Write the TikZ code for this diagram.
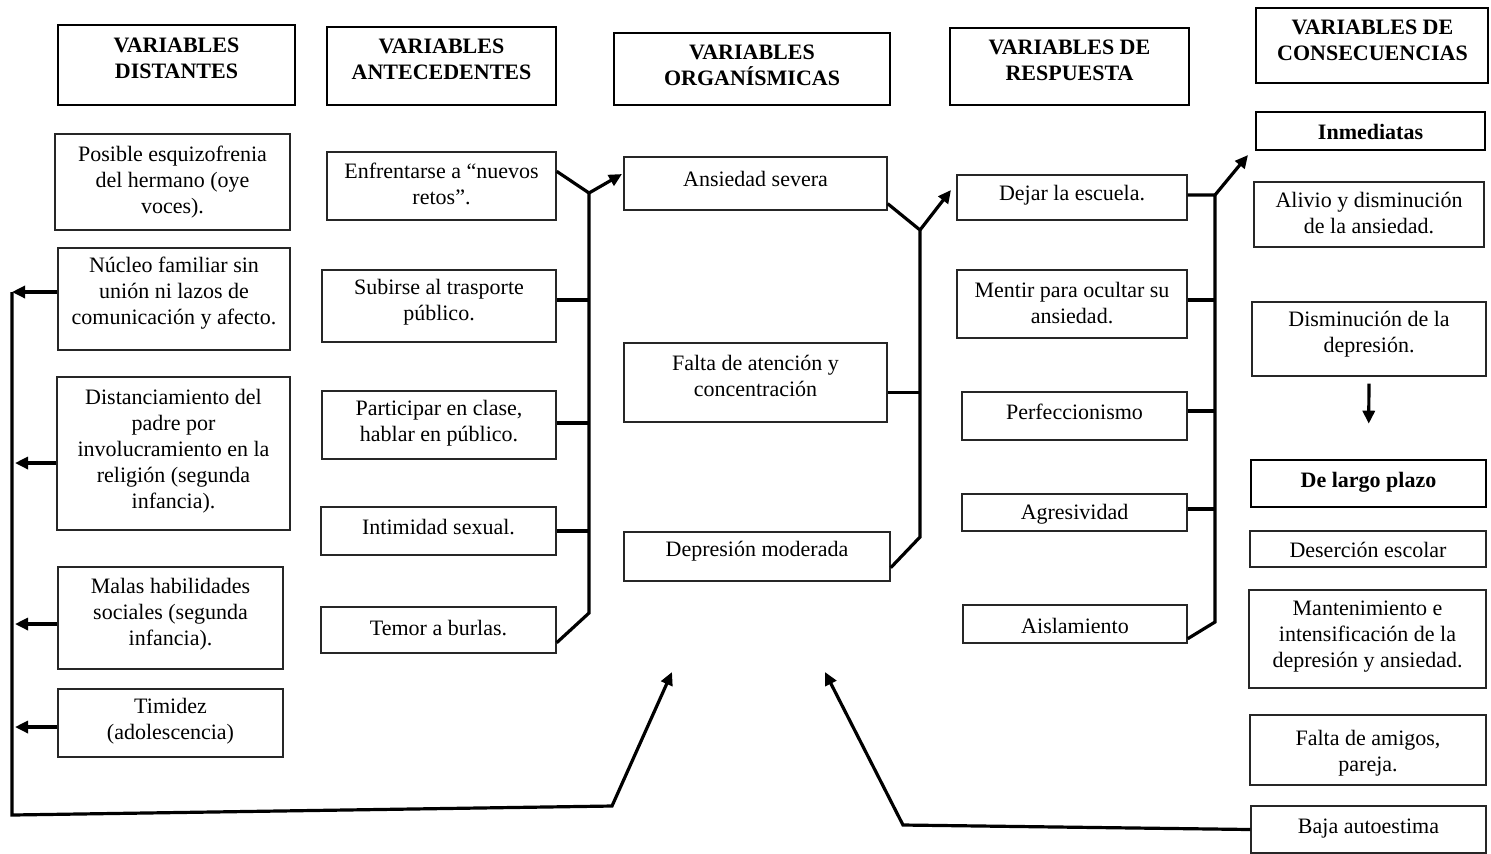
\documentclass[tikz,border=0pt]{standalone}
\usepackage{fontspec}
\setmainfont{Liberation Serif}
\usetikzlibrary{fit,arrows.meta,calc}
\newcommand{\mkbox}[6]{\node[#1, fit={(#3,#4) (#5,#6)}] (#2) {};}
\begin{document}
\begin{tikzpicture}[x=0.5pt,y=-0.5pt]
\tikzset{
 box/.style={draw=black!85, line width=0.7pt, inner sep=0pt},
 hbox/.style={draw=black, line width=1.3pt, inner sep=0pt},
 txt/.style={align=center, font=\fontsize{11}{13}\selectfont, inner sep=0pt},
 htxt/.style={align=center, font=\fontsize{11}{13}\selectfont\bfseries, inner sep=0pt},
 conn/.style={line width=1.6pt, line join=miter},
 arr/.style={conn, -{Triangle[length=6.5pt,width=6pt]}},
}
\useasboundingbox (0,0) rectangle (1491,853);
% headers
\mkbox{hbox}{H1}{58}{25}{295}{105}
\mkbox{hbox}{H2}{327}{27}{556}{105}
\mkbox{hbox}{H3}{614}{33}{890}{105}
\mkbox{hbox}{H4}{950}{28}{1189}{105}
\mkbox{hbox}{H5}{1256}{8}{1488}{83}
\node[htxt] (H1t) at (176.5,58) {VARIABLES\\DISTANTES};
\node[htxt] (H2t) at (441.5,59) {VARIABLES\\ANTECEDENTES};
\node[htxt] (H3t) at (752,65) {VARIABLES\\ORGANÍSMICAS};
\node[htxt] (H4t) at (1069.5,60) {VARIABLES DE\\RESPUESTA};
\node[htxt] (H5t) at (1372.5,40) {VARIABLES DE\\CONSECUENCIAS};
% distantes
\mkbox{box}{D1}{55}{134}{290}{230}
\mkbox{box}{D2}{58}{248}{290}{350}
\mkbox{box}{D3}{57}{377}{290}{530}
\mkbox{box}{D4}{58}{567}{283}{669}
\mkbox{box}{D5}{58}{689}{283}{757}
\node[txt] (D1t) at (172.5,182) {Posible esquizofrenia\\del hermano (oye\\voces).};
\node[txt] (D2t) at (174,293) {Núcleo familiar sin\\unión ni lazos de\\comunicación y afecto.};
\node[txt] (D3t) at (173.5,451) {Distanciamiento del\\padre por\\involucramiento en la\\religión (segunda\\infancia).};
\node[txt] (D4t) at (170.5,614) {Malas habilidades\\sociales (segunda\\infancia).};
\node[txt] (D5t) at (170.5,721) {Timidez\\(adolescencia)};
% antecedentes
\mkbox{box}{A1}{327}{152}{556}{220}
\mkbox{box}{A2}{322}{270}{556}{342}
\mkbox{box}{A3}{322}{391}{556}{459}
\mkbox{box}{A4}{321}{507}{556}{555}
\mkbox{box}{A5}{321}{607}{556}{653}
\node[txt] (A1t) at (441.5,184) {Enfrentarse a “nuevos\\retos”.};
\node[txt] (A2t) at (439,302) {Subirse al trasporte\\público.};
\node[txt] (A3t) at (439,423) {Participar en clase,\\hablar en público.};
\node[txt] (A4t) at (438.5,527) {Intimidad sexual.};
\node[txt] (A5t) at (438.5,628) {Temor a burlas.};
% organismicas
\mkbox{box}{O1}{624}{157}{887}{210}
\mkbox{box}{O2}{624}{343}{887}{422}
\mkbox{box}{O3}{624}{532}{890}{581}
\node[txt] (O1t) at (755.5,179) {Ansiedad severa};
\node[txt] (O2t) at (755.5,376) {Falta de atención y\\concentración};
\node[txt] (O3t) at (757,551) {Depresión moderada};
% respuesta
\mkbox{box}{R1}{957}{175}{1187}{220}
\mkbox{box}{R2}{957}{270}{1187}{338}
\mkbox{box}{R3}{962}{392}{1187}{440}
\mkbox{box}{R4}{962}{494}{1187}{531}
\mkbox{box}{R5}{963}{605}{1187}{643}
\node[txt] (R1t) at (1072,195) {Dejar la escuela.};
\node[txt] (R2t) at (1072,303) {Mentir para ocultar su\\ansiedad.};
\node[txt] (R3t) at (1074.5,412) {Perfeccionismo};
\node[txt] (R4t) at (1074.5,514) {Agresividad};
\node[txt] (R5t) at (1075,626) {Aislamiento};
% consecuencias
\mkbox{hbox}{C0}{1256}{112}{1485}{150}
\mkbox{box}{C1}{1254}{182}{1484}{247}
\mkbox{box}{C2}{1252}{302}{1486}{376}
\mkbox{hbox}{C3}{1251}{460}{1486}{507}
\mkbox{box}{C4}{1250}{531}{1486}{567}
\mkbox{box}{C5}{1249}{590}{1486}{688}
\mkbox{box}{C6}{1250}{715}{1486}{785}
\mkbox{box}{C7}{1251}{806}{1486}{853}
\node[htxt] (C0t) at (1370.5,132) {Inmediatas};
\node[txt] (C1t) at (1369,213) {Alivio y disminución\\de la ansiedad.};
\node[txt] (C2t) at (1369,334) {Disminución de la\\depresión.};
\node[htxt] (C3t) at (1368.5,482) {De largo plazo};
\node[txt] (C4t) at (1368,550) {Deserción escolar};
\node[txt] (C5t) at (1367.5,637) {Mantenimiento e\\intensificación de la\\depresión y ansiedad.};
\node[txt] (C6t) at (1368,753) {Falta de amigos,\\pareja.};
\node[txt] (C7t) at (1368.5,829) {Baja autoestima};
% left bus (antecedentes -> organismicas)
\coordinate (LBtop) at (589,193);
\coordinate (LBbot) at (589,613);
\coordinate (OrgIn) at (622,174);
\coordinate (a2) at ([yshift=3pt]A2.east);
\coordinate (a3) at ([yshift=1pt]A3.east);
\coordinate (a4) at (A4.east);
\draw[conn] ([yshift=-10pt]A1.north east) -- (LBtop) -- (LBbot) -- ([yshift=5.5pt]A5.south east);
\draw[arr] (LBtop) -- (OrgIn);
\draw[conn] (a2) -- (a2 -| LBtop);
\draw[conn] (a3) -- (a3 -| LBtop);
\draw[conn] (a4) -- (a4 -| LBtop);
% middle bus (organismicas -> respuesta)
\coordinate (MBtop) at (920,230);
\coordinate (MBbot) at (920,537);
\coordinate (RespIn) at (951,190);
\coordinate (o2) at ([yshift=-5pt]O2.east);
\draw[conn] ([yshift=3.5pt]O1.south east) -- (MBtop) -- (MBbot) -- ([yshift=7pt]O3.south east);
\draw[arr] (MBtop) -- (RespIn);
\draw[conn] (o2) -- (o2 -| MBtop);
% right bus (respuesta -> consecuencias)
\coordinate (RBtop) at (1215,195);
\coordinate (RBbot) at (1215,622);
\coordinate (ConsIn) at (1248,155);
\coordinate (r1) at ([yshift=1.25pt]R1.east);
\coordinate (r2) at ([yshift=2pt]R2.east);
\coordinate (r3) at ([yshift=2.5pt]R3.east);
\coordinate (r4) at ([yshift=1.75pt]R4.east);
\draw[conn] (r1) -- (RBtop) -- (RBbot) -- ([yshift=2.5pt]R5.south east);
\draw[arr] (RBtop) -- (ConsIn);
\draw[conn] (r2) -- (r2 -| RBtop);
\draw[conn] (r3) -- (r3 -| RBtop);
\draw[conn] (r4) -- (r4 -| RBtop);
% immediate -> long term
\draw[arr, shorten <=3.5pt, shorten >=17.5pt] (C2.south) -- (C3.north);
% left loop (distantes -> organismicas)
\coordinate (LLtop) at (12,292);
\coordinate (LLbot) at (12,815);
\coordinate (LLturn) at (612,806);
\coordinate (LLtip) at (672,672);
\coordinate (d2) at ([yshift=3.5pt]D2.west);
\coordinate (d3) at ([yshift=-4.75pt]D3.west);
\coordinate (d4) at ([yshift=-3pt]D4.west);
\coordinate (d5) at ([yshift=-2pt]D5.west);
\draw[arr] (d2) -- (d2 -| LLtop);
\draw[arr, shorten >=1.5pt] (d3) -- (d3 -| LLtop);
\draw[arr, shorten >=1.5pt] (d4) -- (d4 -| LLtop);
\draw[arr, shorten >=1.5pt] (d5) -- (d5 -| LLtop);
\draw[arr] (LLtop) -- (LLbot) -- (LLturn) -- (LLtip);
% right loop (baja autoestima -> organismicas)
\coordinate (RLturn) at (903,825);
\coordinate (RLtip) at (825,672);
\draw[arr] (C7.west) -- (RLturn) -- (RLtip);
\end{tikzpicture}
\end{document}
